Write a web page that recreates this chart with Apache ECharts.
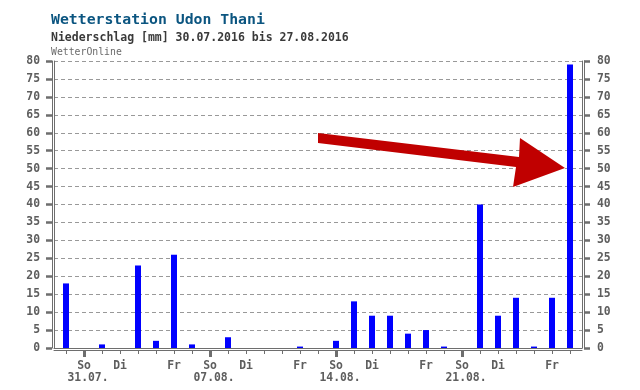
<!DOCTYPE html>
<html>
<head>
<meta charset="utf-8">
<script src="https://cdn.jsdelivr.net/npm/echarts@6/dist/echarts.min.js"></script>
<style>
  html, body { margin: 0; padding: 0; background: #fff; }
  #chart { width: 640px; height: 390px; }
</style>
</head>
<body>
<div id="chart"></div>
<script>
// Tagesniederschlag Udon Thani, 30.07.2016 - 27.08.2016
const days = ["30.07.", "31.07.", "01.08.", "02.08.", "03.08.", "04.08.", "05.08.",
  "06.08.", "07.08.", "08.08.", "09.08.", "10.08.", "11.08.", "12.08.", "13.08.",
  "14.08.", "15.08.", "16.08.", "17.08.", "18.08.", "19.08.", "20.08.", "21.08.",
  "22.08.", "23.08.", "24.08.", "25.08.", "26.08.", "27.08."];
const dayNames = ["Sa", "So", "Mo", "Di", "Mi", "Do", "Fr",
  "Sa", "So", "Mo", "Di", "Mi", "Do", "Fr",
  "Sa", "So", "Mo", "Di", "Mi", "Do", "Fr",
  "Sa", "So", "Mo", "Di", "Mi", "Do", "Fr", "Sa"];
const rain = [18, 0, 1, 0, 23, 2, 26, 1, 0, 3, 0, 0, 0, 0.4, 0, 2, 13, 9, 9, 4, 5,
  0.4, 0, 40, 9, 14, 0.4, 14, 79];
const shownNames = ["So", "Di", "Fr"];
const yMin = 0, yMax = 80, yStep = 5;

const font = "'DejaVu Sans Mono', 'Liberation Mono', monospace";
const axisGrey = "#6e6e6e";

const dayIdx = days.map((d, i) => i);
const labelIdx = dayIdx.filter(i => shownNames.includes(dayNames[i]));
const sundayIdx = dayIdx.filter(i => dayNames[i] === "So");
const xMin = -2 / 3, xMax = days.length - 1 + 2 / 3;

const chart = echarts.init(document.getElementById("chart"));

const lbl = { fontFamily: font, fontWeight: "bold", fontSize: 11.4, color: "#5e5e5e" };

const baseX = {
  type: "value", min: xMin, max: xMax, position: "bottom",
  splitLine: { show: false }, axisTick: { show: false }, axisLabel: { show: false },
  axisLine: { show: false, onZero: false }
};
const baseY = {
  type: "value", min: yMin, max: yMax, interval: yStep,
  splitLine: { show: false }, axisTick: { show: false }, axisLabel: { show: false },
  axisLine: { show: true, onZero: false, lineStyle: { color: axisGrey, width: 1 } }
};

const option = {
  animation: false,
  title: [
    { text: "Wetterstation Udon Thani", left: 51, top: 12, padding: 0,
      textStyle: { fontFamily: font, fontWeight: "bold", fontSize: 14.8, color: "#0b5580", lineHeight: 16 } },
    { text: "Niederschlag [mm] 30.07.2016 bis 27.08.2016", left: 51, top: 32, padding: 0,
      textStyle: { fontFamily: font, fontWeight: "bold", fontSize: 11.5, color: "#3a3a3a", lineHeight: 12 } },
    { text: "WetterOnline", left: 51, top: 47, padding: 0,
      textStyle: { fontFamily: font, fontWeight: "normal", fontSize: 9.8, color: "#6a6a6a", lineHeight: 10 } }
  ],
  grid: { left: 54, right: 58, top: 61, bottom: 42 },
  xAxis: [
    Object.assign({}, baseX, { axisLine: { show: true, onZero: false, lineStyle: { color: axisGrey, width: 1 } } }),
    Object.assign({}, baseX, {
      offset: 2,
      axisLine: { show: true, onZero: false, lineStyle: { color: axisGrey, width: 1 } },
      axisTick: { show: true, length: 4, customValues: dayIdx, lineStyle: { color: axisGrey, width: 1 } },
      axisLabel: {
        show: true, customValues: labelIdx, margin: 10, lineHeight: 12,
        formatter: v => {
          const i = Math.round(v);
          return dayNames[i] === "So" ? "{w|" + dayNames[i] + "}\n{d|" + days[i] + "}" : "{w|" + dayNames[i] + "}";
        },
        rich: {
          w: Object.assign({ lineHeight: 12 }, lbl),
          d: Object.assign({ lineHeight: 12, padding: [0, 0, 0, 8] }, lbl)
        }
      }
    }),
    Object.assign({}, baseX, {
      offset: 2,
      axisTick: { show: true, length: 7, customValues: sundayIdx, lineStyle: { color: axisGrey, width: 3 } }
    })
  ],
  yAxis: [
    Object.assign({}, baseY, {
      position: "left",
      splitLine: { show: true, lineStyle: { color: "#999", type: [4, 3], width: 1 } }
    }),
    Object.assign({}, baseY, {
      position: "left", offset: 2,
      axisTick: { show: true, length: 6, lineStyle: { color: axisGrey, width: 2.5 } },
      axisLabel: Object.assign({ show: true, margin: 12 }, lbl)
    }),
    Object.assign({}, baseY, { position: "right" }),
    Object.assign({}, baseY, {
      position: "right", offset: 2,
      axisTick: { show: true, length: 6, lineStyle: { color: axisGrey, width: 2.5 } },
      axisLabel: Object.assign({ show: true, margin: 13 }, lbl)
    })
  ],
  series: [{
    name: "Niederschlag",
    type: "bar",
    xAxisIndex: 0,
    yAxisIndex: 0,
    barWidth: 6,
    itemStyle: { color: "#0000ff" },
    data: rain.map((v, i) => [i, v])
  }],
  graphic: [{
    type: "polygon",
    shape: { points: [[318, 133], [519, 157], [520, 138], [565, 168], [513, 187], [516, 167], [318, 143]] },
    style: { fill: "#c00000" },
    z: 100
  }]
};

chart.setOption(option);
</script>
</body>
</html>
